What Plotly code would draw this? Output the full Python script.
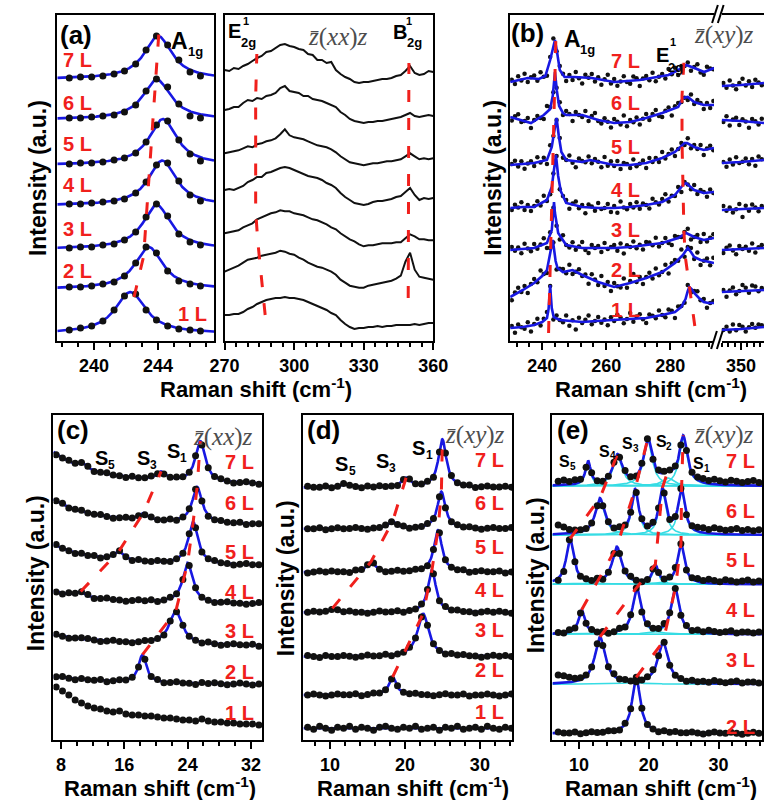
import numpy as np
import plotly.graph_objects as go

W, H = 779, 800
SANS = "Liberation Sans, Arial, sans-serif"
SERIF = "Liberation Serif, Times New Roman, serif"
BLUE = "#1818e2"
RED = "#f0201c"
CYAN = "#36dce4"
INK = "#111111"
GREY = "#4d4d4d"

LAYERS = ["1 L", "2 L", "3 L", "4 L", "5 L", "6 L", "7 L"]

# ---------------------------------------------------------------- (a) left
# A1g band, z(xx)z: Lorentzian fit parameters per layer (1L ... 7L)
a1_center = [242.27, 243.42, 243.92, 244.26, 244.30, 243.92, 244.00]
a1_amp = [41.5, 42.0, 44.0, 45.0, 46.0, 40.0, 43.0]
a1_hwhm = [1.15, 1.05, 1.05, 1.05, 1.05, 1.05, 1.05]
a1_base = [7.5, 52.0, 92.0, 135.5, 176.0, 221.5, 262.0]
a1_pts_x = [238.45, 239.15, 239.85, 240.55, 241.25, 241.9, 242.6,
            243.25, 243.9, 244.6, 245.3, 246.0, 246.65]
a1_pts_y = [
    [11, 13, 15, 20, 31, 45, 47, 31, 21, 15, 12, 11, 10],
    [54, 54, 55, 57, 59, 65, 78, 94, 88, 70, 60, 57, 55],
    [93, 94, 94, 96, 97, 101, 109, 124, 137, 125, 107, 99, 96],
    [137, 137, 138, 139, 140, 142, 148, 159, 176, 178, 160, 146, 140],
    [177, 178, 178, 179, 181, 183, 188, 199, 216, 220, 201, 187, 180],
    [223, 223, 224, 225, 226, 229, 236, 250, 262, 254, 237, 225, 223],
    [263, 264, 264, 265, 267, 270, 277, 291, 305, 296, 281, 269, 265],
]
a1_guide_x = [242.5, 243.1, 244.05]
a1_guide_y = [44, 85, 308]

# ---------------------------------------------------------------- (a) right
# E12g / B12g region, z(xx)z spectra, relative intensity every 2 cm-1
a2_shift = np.arange(270, 361, 2)
a2_offset = [26.0, 69.3, 107.7, 151.0, 187.7, 231.0, 271.0]
a2_rel = [
    [0, 0, 1, 1, 3, 6, 8, 11, 13, 15, 16, 17, 17, 18, 17, 17, 16, 15, 13, 11,
     9, 7, 5, 2, 0, -5, -9, -12, -14, -13, -13, -12, -12, -11, -12, -11, -11, -10, -10, -10,
     -10, -9, -10, -9, -8, -8],
    [0, 2, 4, 6, 9, 12, 13, 14, 16, 17, 18, 19, 21, 20, 18, 17, 14, 12, 9, 7,
     5, 4, 2, 0, -3, -8, -11, -14, -15, -16, -16, -14, -13, -12, -11, -10, -9, -7, -4, 10,
     19, 2, -5, -6, -7, -8],
    [0, 1, 2, 3, 6, 8, 10, 14, 16, 18, 20, 21, 23, 22, 22, 20, 19, 18, 16, 14,
     13, 11, 9, 6, 4, 0, -3, -6, -8, -11, -13, -12, -12, -11, -10, -10, -10, -9, -9, -5,
     -1, -3, -6, -6, -7, -7],
    [0, 1, 0, 2, 4, 8, 10, 13, 13, 17, 18, 20, 22, 23, 22, 20, 18, 16, 14, 13,
     12, 10, 7, 5, 2, -3, -7, -10, -13, -14, -15, -14, -12, -11, -11, -10, -9, -7, -6, -2,
     2, -5, -10, -8, -9, -8],
    [0, 1, 2, 3, 5, 7, 6, 9, 10, 12, 13, 15, 19, 24, 18, 16, 15, 14, 12, 10,
     8, 7, 6, 4, 1, -3, -6, -9, -10, -11, -12, -11, -10, -10, -9, -8, -8, -7, -6, -3,
     0, -3, -6, -5, -6, -5],
    [0, 1, 3, 3, 7, 10, 9, 12, 11, 14, 15, 17, 22, 24, 19, 18, 17, 14, 14, 11,
     10, 9, 7, 5, 3, -2, -5, -9, -11, -12, -13, -12, -12, -11, -11, -10, -9, -8, -7, -5,
     -3, -6, -7, -6, -5, -6],
    [0, -1, 2, 1, 4, 6, 9, 12, 14, 18, 19, 22, 25, 26, 24, 23, 21, 20, 16, 15,
     10, 10, 7, 8, 0, -4, -7, -9, -12, -13, -12, -12, -11, -10, -9, -9, -8, -6, -5, -1,
     4, -3, -5, -4, -1, -2],
]
a2_E_guide_x = [287.5, 285.9, 284.3, 283.4, 283.4, 283.9]
a2_E_guide_y = [26, 60, 100, 130, 244, 287]
a2_B_guide_x = [349.2, 349.5]
a2_B_guide_y = [43, 278]

# ---------------------------------------------------------------- (b)
# z(xy)z, fitted curves (relative to each layer offset) and measured points
b_offset = [13, 44, 91, 133, 176, 224, 259]
b_fit_x = [
    [230, 234, 237.5, 240, 241.5, 242.0, 242.3, 242.5, 242.7, 243.0, 243.6, 245.5, 249, 252.5, 257,
     262.5, 267, 272.5, 277.5, 281.5, 283.5, 284.8, 285.5, 286.0, 286.7, 287.5, 289, 290.5, 292, 293.7],
    [230, 234, 237.5, 240, 241.5, 242.5, 243.0, 243.3, 243.7, 244.2, 244.8, 246.5, 249.5, 252.5, 257.5,
     262.5, 267.5, 272.5, 277.5, 281.5, 284, 285.5, 286.5, 287.5, 289.5, 293.7],
    [230, 234, 237.5, 241.5, 243.0, 243.4, 243.7, 244.0, 244.4, 245.0, 247.5, 252.5, 257.5, 262.5, 267.5,
     272.5, 277.5, 282.5, 285.0, 287.5, 290.5, 293.7],
    [230, 234, 237.5, 241.5, 243.0, 243.7, 244.3, 245.0, 245.8, 247.5, 252.5, 257.5, 262.5, 267.5, 272.5,
     277.5, 281.5, 284.0, 285.0, 287.5, 290.5, 293.7],
    [230, 234, 237.5, 241.5, 243.0, 243.8, 244.5, 245.2, 246.0, 247.5, 252.5, 255.0, 258.0, 262.5, 267.5,
     272.5, 277.5, 281.5, 284.5, 285.3, 287.5, 290.5, 293.7],
    [230, 233.5, 236.5, 240.5, 242.5, 243.3, 244.0, 244.6, 245.3, 246.5, 247.5, 252.5, 257.5, 262.5, 267.5,
     272.5, 277.5, 282.5, 284.0, 285.5, 287.5, 290.5, 293.7],
    [230, 235.5, 239, 241, 242.5, 243.3, 244.0, 244.7, 245.5, 247, 250, 255.5, 262.5, 270.5, 279.5,
     282.5, 285.0, 287.6, 290.6, 293.7],
]
b_fit_rel = [
    [0, 1, 3, 6, 10, 19, 33, 43, 33, 20, 11, 8, 7, 6, 7, 8, 9, 10, 13, 16, 21, 29, 37, 41, 39, 35, 30, 26, 25, 25],
    [0, 7, 14, 21, 27, 44, 53, 57, 48, 36, 29, 25, 27, 22, 15, 10, 14, 19, 25, 34, 42, 49, 45, 40, 37, 34],
    [0, 1, 2, 7, 20, 35, 48, 37, 27, 17, 5, 2, 2, 2, 3, 5, 7, 12, 17, 13, 10, 12],
    [0, 1, 1, 8, 21, 37, 53, 32, 17, 5, 1, 0, 0, 1, 3, 6, 13, 23, 25, 18, 15, 16],
    [0, 1, 2, 5, 18, 34, 47, 29, 13, 5, 3, 5, 3, 0, 0, 2, 7, 13, 22, 22, 18, 15, 17],
    [0, -3, -6, 2, 8, 21, 45, 26, 11, 4, 2, 2, -3, -6, -5, -1, 4, 10, 19, 20, 15, 12, 12],
    [0, 4, 3, 6, 22, 33, 42, 29, 12, 5, 5, 4, 0, 2, 7, 12, 17, 14, 10, 14],
]
b_pts_x = np.arange(230.5, 294.0, 1.0)
b_pts_res = [
    [2, -5, 3, 0, -2, 4, -6, 1, 5, -3, 2, 6, -1, -4, 3, 0,
     -2, 5, -5, 1, -8, 4, -1, 2, 6, -3, 0, 4, -2, 1, -5, 3,
     -1, 5, 2, -4, 0, 6, -3, 2, 4, -1, -5, 3, 1, -2, 5, 0,
     -3, 4, 2, -6, 3, 1, -2, 6, -4, 2, 5, -1, 3, -5, 0, 2],
    [-4, 2, 5, -1, 3, -6, 1, 4, -2, 7, 0, -3, 5, 2, -5, 1,
     3, -2, 6, -4, 0, 4, -1, 2, -6, 5, 1, -3, 7, -2, 3, -5,
     4, 0, -2, 6, -4, 2, 8, -1, 3, -5, 1, 4, -3, 6, -2, 0,
     5, -6, 2, 3, -1, 7, -4, 1, 4, -2, 6, -5, 0, 3, -3, 5],
    [3, -1, 2, -4, 5, 0, -3, 4, -2, 1, 6, -5, 2, 3, -1, -4,
     5, 0, -2, 4, -3, 1, 6, -2, -5, 3, 0, 2, -4, 5, -1, 1,
     3, -3, 4, -6, 2, 0, 5, -2, 1, -4, 3, 2, -1, 6, -3, 0,
     4, -2, -5, 3, 1, -1, 2, 5, -4, 0, 3, -3, 6, -2, 1, 4],
    [-2, 3, 0, 5, -3, 2, -4, 1, 4, -2, 6, -1, -3, 2, 5, -4,
     0, 3, -5, 1, 4, -2, 2, -6, 3, 1, -3, 5, -1, 0, 4, -4,
     2, -5, 6, 0, -2, 3, -1, 4, -3, 2, 0, -4, 5, 1, -2, 3,
     6, -3, 1, -1, 4, -5, 2, 0, -2, 5, -3, 2, 1, -4, 3, -1],
    [1, 4, -2, 3, -5, 0, 2, -3, 5, -1, 3, -4, 6, 1, -2, 4,
     -3, 0, 5, -2, -6, 3, 1, -1, 4, -3, 2, 0, -5, 6, -2, 3,
     -1, 4, -4, 2, 1, -3, 5, -2, 0, 3, -5, 4, -1, 2, -3, 6,
     -2, 1, 4, -4, 0, 3, -2, 5, -3, 2, -1, 4, -5, 1, 3, -2],
    [-3, 2, 5, -2, 0, 4, -5, 1, 3, -1, -4, 6, 2, -3, 0, 5,
     -2, 4, 1, -6, 3, 0, -2, 5, -4, 2, 6, -1, -3, 3, 0, -5,
     4, 1, -2, 7, -4, 2, -1, 3, -5, 0, 4, -3, 2, 5, -2, -4,
     1, 3, -6, 2, 4, -1, 0, -3, 5, -2, 3, 1, -4, 2, -3, 4],
    [2, -3, 4, -1, 5, -4, 1, 3, -2, 6, 0, -5, 3, 8, -2, 4,
     1, -4, 2, -3, 5, -1, -6, 3, 0, 4, -3, 2, -5, 1, 6, -2,
     3, -4, 0, 5, -1, -3, 4, 2, -6, 1, 3, -2, 5, -4, 0, 2,
     -3, 6, -1, 4, -5, 2, 0, 3, -4, 1, 5, -2, -3, 4, 1, -1],
]
b2_fit_x = [344.0, 350.0, 357.2]
b2_fit_rel = [[-2, -1, 1], [5, 6, 7], [0, 1, 2], [-2, -1, 0], [2, 3, 5], [-3, -4, -6], [-4, -3, -1]]
b2_pts_x = np.arange(344.5, 357.0, 1.0)
b2_pts_res = [
    [0, 3, -2, 5, -1, 4, 2, -3, 1, 4, 0, 3, 2],
    [2, -5, 1, 4, -3, 0, 6, 3, -2, 5, 4, -1, 2],
    [-3, 2, 4, -1, -5, 3, 0, 2, -2, 5, -4, 1, 3],
    [4, -1, 2, -3, 0, 5, -8, 3, -2, 4, 1, -3, 2],
    [1, -4, 3, -2, 5, -1, 0, 3, -3, 2, -5, 4, 1],
    [-2, 4, -5, 1, 3, -4, 2, 0, -6, 3, 1, -2, 4],
    [3, -2, 5, 0, -4, 2, 6, -1, 3, -3, 4, 1, -2],
]
b_A_guide_x = [242.0, 244.3]
b_A_guide_y = [8, 305]
b_E_guide_x = [287.7, 286.0, 284.7, 284.3, 284.0, 283.7, 283.7, 284.4]
b_E_guide_y = [15, 55, 85, 110, 150, 200, 245, 285]

# ---------------------------------------------------------------- (c)
# shear / breathing modes, z(xx)z: baseline, Rayleigh wing and Lorentzian peaks
c_base = [15, 55, 93.3, 135, 173.3, 214, 254]
c_ray_amp = [None, 15, 21, 27, 67, 80, 102]
c_ray_w = [None, 8, 8, 7, 5, 5, 5]
c_s1_pos = [None, 18.3, 22.5, 24.0, 24.7, 25.2, 25.6]
c_s1_amp = [None, 28, 33, 40, 42, 36, 41]
c_s1_w = [None, 0.6, 1.0, 0.75, 0.75, 0.75, 0.75]
c_s3_pos = [None, None, None, 10.5, 15.3, 18.4, 20.65]
c_s3_amp = [None, None, None, 5, 8.5, 7, 8]
c_s3_w = [None, None, None, 0.7, 0.8, 0.7, 0.7]
c_s5_pos = [None, None, None, None, None, None, 10.7]
c_s5_amp = [None, None, None, None, None, None, 5]
c_s5_w = [None, None, None, None, None, None, 0.6]
c_pts_x = np.round(7.4 + 0.8 * np.arange(33), 2)
c_1L_pts = [38, 34, 30, 25, 22, 19, 17, 16, 14, 13, 14, 11, 10, 10, 9, 9, 8, 7, 7, 6,
            5, 5, 4, 6, 4, 3, 3, 2, 2, 1, 1, 1, 0]
c_pts_res = [
    None,
    [0, 1, 0, -1, 1, 0, 0, 1, -1, 0, 1, 0, 0, -1, 1, 0, 1, -1, 0, 1, 0, 0, -1, 1, 0, 1, 0, -1, 0, 1, 0, -1, 0],
    [1, 0, -1, 0, 1, 1, 0, -1, 0, 1, 0, 0, -1, 0, 1, 0, 0, -1, 1, 0, 1, 0, 0, -1, 1, 0, -1, 0, 1, 0, 0, 1, -1],
    [0, -1, 1, 0, 0, 1, -1, 0, 1, 0, 0, -1, 0, 1, 0, 1, -1, 0, 1, 0, -1, 0, 1, 0, 0, -1, 0, 1, 0, 0, -1, 0, 1],
    [1, 0, 0, -1, 1, 0, 1, -1, 0, 0, 1, 0, -1, 1, 0, 0, 1, 0, -1, 0, 0, 1, 0, -1, 0, 1, 0, 0, -1, 0, 1, 0, 0],
    [0, 1, -1, 0, 1, 0, 0, 1, 0, -1, 0, 1, 0, 0, -1, 1, 0, 0, 1, -1, 0, 1, 0, 0, -1, 0, 1, 0, 0, 1, -1, 0, 0],
    [-1, 0, 1, 0, 0, 1, -1, 0, 1, 0, 0, -1, 1, 0, 0, 1, 0, -1, 0, 1, 0, 0, 1, -1, 0, 0, 1, 0, -1, 0, 1, 0, -1],
]

# ---------------------------------------------------------------- (d)
# shear / breathing modes, z(xy)z
d_base = [11.7, 45, 83.3, 127.5, 167.8, 211.2, 252.5]
d_s1_pos = [None, 18.35, 22.42, 23.6, 24.4, 24.86, 24.99]
d_s1_amp = [None, 18, 43, 42.5, 42, 37, 48]
d_s1_w = [None, 0.6, 0.9, 0.65, 0.65, 0.65, 0.65]
d_s3_pos = [None, None, None, 10.3, 15.44, 18.35, 20.15]
d_s3_amp = [None, None, None, 4, 10, 7, 9]
d_s3_w = [None, None, None, 0.6, 0.7, 0.7, 0.7]
d_s5_pos = [None, None, None, None, None, None, 12.0]
d_s5_amp = [None, None, None, None, None, None, 3]
d_s5_w = [None, None, None, None, None, None, 0.8]
d_pts_x = np.round(7.0 + 0.8 * np.arange(35), 2)
d_pts_res = [
    [1, -1, 2, 0, -2, 1, 0, 2, -1, 1, 0, -2, 1, 2, 0, -1, 1, 0, 2, -1, 0, 1, -2, 1, 0, 2, -1, 0, 1, -1, 2, 0, -1, 1, 0],
    [0, 1, 0, -1, 0, 1, 0, 0, 1, -1, 0, 1, 0, 0, -1, 1, 0, 0, 1, 0, 0, -1, 0, 1, 0, 0, 1, -1, 0, 0, 1, 0, -1, 0, 1],
    [1, 0, -1, 1, 0, 0, 1, 0, -1, 0, 1, 0, 0, 1, -1, 0, 0, 1, 0, -1, 1, 0, 0, -1, 1, 0, 1, 0, 0, -1, 0, 1, 0, 1, 0],
    [0, 1, 0, 0, -1, 1, 0, 1, 0, 0, -1, 0, 1, 0, 0, 1, -1, 0, 0, 1, 0, 0, -1, 1, 0, 1, 0, 0, -1, 0, 1, 0, 1, 0, -1],
    [-1, 0, 1, 0, 1, 0, 0, -1, 1, 0, 0, 1, 0, -1, 0, 1, 0, 0, 1, 0, -1, 0, 1, 0, 0, 0, 1, -1, 0, 1, 0, 0, 1, -1, 0],
    [0, 0, 1, -1, 0, 1, 0, 0, 1, 0, -1, 0, 0, 1, 0, 0, 1, -1, 0, 0, 1, 0, 0, -1, 0, 1, 0, 1, 0, -1, 0, 1, 0, 0, 1],
    [1, 0, 0, 1, -1, 0, 1, 0, 0, -1, 1, 0, 1, 0, 0, -1, 0, 1, 0, 0, 1, -1, 0, 0, 1, 0, 0, 1, -1, 0, 1, 0, 0, 1, 0],
]

# ---------------------------------------------------------------- (e)
# z(xy)z, multi-Lorentzian decomposition, layers 2L ... 7L
E_LAYERS = LAYERS[1:]
e_base = [6.7, 55.7, 105.7, 155.7, 205, 254]
e_pos = [[18.19], [13.0, 22.04], [10.37, 18.28, 23.8], [8.7, 15.42, 20.94, 24.62],
         [12.98, 18.04, 21.95, 24.7], [11.28, 15.52, 19.88, 22.78, 24.94]]
e_amp = [[56], [47, 42], [24, 46, 45], [45, 37, 18, 40],
         [36, 44, 44, 44], [24, 30, 45, 8, 48]]
e_w = [[0.7], [0.9, 0.9], [0.55, 0.7, 0.7], [0.65, 0.8, 0.5, 0.6],
       [0.8, 0.6, 0.6, 0.6], [0.45, 0.8, 0.75, 1.0, 0.7]]
# peaks followed across layers by the guide lines: (layer index, peak index)
e_series = [
    [(0, 0), (1, 1), (2, 2), (3, 3), (4, 3), (5, 4)],
    [(1, 0), (2, 1), (3, 2), (4, 2), (5, 3)],
    [(2, 0), (3, 1), (4, 1), (5, 2)],
    [(3, 0), (4, 0), (5, 1)],
]
e_pts_x = np.round(7.0 + 0.8 * np.arange(37), 2)
e_pts_res = [
    [1, 0, 0, 1, -1, 0, 1, 0, 0, 1, 0, -1, 1, 0, 0, 1, 0, 0, -1, 1, 0, 1, 0, 0, 1, 0, -1, 0, 1, 0, 0, 1, 0, -1, 0, 1, 0],
    [8, 7, 5, 3, 2, 1, 0, 1, -1, 0, 2, 0, 1, 0, -1, 0, 1, 2, 0, 1, -1, 0, 1, 0, 2, 1, 2, 1, 3, 2, 1, 2, 3, 1, 2, 2, 1],
    [1, 0, 2, 0, -1, 0, 1, 0, 1, -1, 0, 2, 0, 1, 0, -1, 1, 0, 0, 2, 1, 0, -1, 1, 0, 2, 1, 3, 2, 1, 2, 3, 1, 2, 2, 1, 2],
    [-2, -3, 0, 1, 0, 1, 0, 2, -1, 0, 1, 0, 1, 2, 0, -1, 0, 1, 0, 0, 1, 2, 0, -1, 1, 3, 2, 4, 3, 2, 4, 3, 2, 3, 4, 2, 3],
    [9, 7, 4, 3, 2, 1, 0, -1, 0, 1, 0, 2, 1, 0, -1, 1, 0, 2, 0, 1, -1, 0, 1, 0, 2, 4, 5, 4, 6, 5, 4, 5, 6, 4, 5, 4, 5],
    [4, 5, 3, 4, 2, 0, 1, 0, -1, 0, 1, 0, 2, 0, -1, 1, 0, 0, 2, 1, 0, 1, -1, 0, 1, 3, 4, 3, 5, 4, 3, 5, 4, 3, 4, 5, 3],
]


def lorentz(x, c, a, g):
    return a / (1.0 + ((np.asarray(x, float) - c) / g) ** 2)


fig = go.Figure()

AX_A1, AX_A2, AX_B1, AX_B2 = ("x", "y"), ("x2", "y2"), ("x3", "y3"), ("x4", "y4")
AX_C, AX_D, AX_E = ("x5", "y5"), ("x6", "y6"), ("x7", "y7")
GUIDE = dict(color=RED, width=3, dash="12px,16px")


def add_line(ax, x, y, color, width, dash=None):
    fig.add_trace(go.Scatter(x=list(x), y=list(y), mode="lines",
                             line=dict(color=color, width=width, dash=dash),
                             xaxis=ax[0], yaxis=ax[1], hoverinfo="skip"))


def add_dots(ax, x, y, size):
    fig.add_trace(go.Scatter(x=list(x), y=list(y), mode="markers",
                             marker=dict(color=INK, size=size, line=dict(width=0)),
                             xaxis=ax[0], yaxis=ax[1], hoverinfo="skip"))


def add_guide(ax, x, y):
    fig.add_trace(go.Scatter(x=list(x), y=list(y), mode="lines", line=GUIDE,
                             xaxis=ax[0], yaxis=ax[1], hoverinfo="skip"))


# ---- (a) left
grid = np.linspace(237.7, 247.5, 400)
for i in range(7):
    add_line(AX_A1, grid, a1_base[i] + lorentz(grid, a1_center[i], a1_amp[i], a1_hwhm[i]), BLUE, 2.6)
for i in range(7):
    add_dots(AX_A1, a1_pts_x, a1_pts_y[i], 7)
add_guide(AX_A1, a1_guide_x, a1_guide_y)

# ---- (a) right
for i in range(7):
    add_line(AX_A2, a2_shift, np.array(a2_rel[i]) + a2_offset[i], INK, 2)
add_guide(AX_A2, a2_E_guide_x, a2_E_guide_y)
add_guide(AX_A2, a2_B_guide_x, a2_B_guide_y)

# ---- (b)
for i in range(7):
    fx, fy = np.array(b_fit_x[i]), np.array(b_fit_rel[i]) + b_offset[i]
    pts = np.interp(b_pts_x, fx, fy) + np.array(b_pts_res[i])
    add_dots(AX_B1, b_pts_x, pts, 4.5)
    add_line(AX_B1, fx, fy, BLUE, 2.6)
    fx2, fy2 = np.array(b2_fit_x), np.array(b2_fit_rel[i]) + b_offset[i]
    pts2 = np.interp(b2_pts_x, fx2, fy2) + np.array(b2_pts_res[i])
    add_dots(AX_B2, b2_pts_x, pts2, 4.5)
    add_line(AX_B2, fx2, fy2, BLUE, 2.6)
add_guide(AX_B1, b_A_guide_x, b_A_guide_y)
add_guide(AX_B1, b_E_guide_x, b_E_guide_y)


# ---- (c) and (d): single-spectrum fits
def mode_fit(x, i, base, ray_amp, ray_w, modes):
    y = np.full(np.shape(x), float(base[i]))
    if ray_amp is not None and ray_amp[i] is not None:
        y = y + lorentz(x, 0.0, ray_amp[i], ray_w[i])
    for pos, amp, w in modes:
        if pos[i] is not None:
            y = y + lorentz(x, pos[i], amp[i], w[i])
    return y


c_modes = [(c_s1_pos, c_s1_amp, c_s1_w), (c_s3_pos, c_s3_amp, c_s3_w), (c_s5_pos, c_s5_amp, c_s5_w)]
grid = np.linspace(7.06, 33.4, 600)
add_dots(AX_C, c_pts_x, np.array(c_1L_pts) + c_base[0], 7)
for i in range(1, 7):
    add_line(AX_C, grid, mode_fit(grid, i, c_base, c_ray_amp, c_ray_w, c_modes), BLUE, 2.6)
    add_dots(AX_C, c_pts_x, mode_fit(c_pts_x, i, c_base, c_ray_amp, c_ray_w, c_modes) + np.array(c_pts_res[i]), 7)
for pos, amp, w in c_modes[:2]:
    idx = [i for i in range(7) if pos[i] is not None]
    add_guide(AX_C, [pos[i] for i in idx],
              [float(mode_fit(np.array([pos[i]]), i, c_base, c_ray_amp, c_ray_w, c_modes)[0]) for i in idx])

d_modes = [(d_s1_pos, d_s1_amp, d_s1_w), (d_s3_pos, d_s3_amp, d_s3_w), (d_s5_pos, d_s5_amp, d_s5_w)]
grid = np.linspace(6.44, 34.3, 600)
for i in range(7):
    add_line(AX_D, grid, mode_fit(grid, i, d_base, None, None, d_modes), BLUE, 2.6)
    add_dots(AX_D, d_pts_x, mode_fit(d_pts_x, i, d_base, None, None, d_modes) + np.array(d_pts_res[i]), 7)
for pos, amp, w in d_modes[:2]:
    idx = [i for i in range(7) if pos[i] is not None]
    add_guide(AX_D, [pos[i] for i in idx],
              [float(mode_fit(np.array([pos[i]]), i, d_base, None, None, d_modes)[0]) for i in idx])


# ---- (e): components in cyan, sum in blue
def e_sum(x, k):
    y = np.full(np.shape(x), float(e_base[k]))
    for c, a, g in zip(e_pos[k], e_amp[k], e_w[k]):
        y = y + lorentz(x, c, a, g)
    return y


grid = np.linspace(6.18, 36.25, 700)
for k in range(6):
    for c, a, g in zip(e_pos[k], e_amp[k], e_w[k]):
        add_line(AX_E, grid, e_base[k] + lorentz(grid, c, a, g), CYAN, 1.6)
for k in range(6):
    add_line(AX_E, grid, e_sum(grid, k), BLUE, 2.6)
    add_dots(AX_E, e_pts_x, e_sum(e_pts_x, k) + np.array(e_pts_res[k]), 7)
for series in e_series:
    xs = [e_pos[k][j] for k, j in series]
    ys = [float(e_sum(np.array([e_pos[k][j]]), k)[0]) for k, j in series]
    add_guide(AX_E, xs, ys)

# ---------------------------------------------------------------- axes
TICKFONT = dict(family=SANS, size=18, color="black", weight="bold")


def xax(x0, x1, rng, dtick, tick0, mdt, anchor, mirror=True):
    return dict(domain=[x0 / W, x1 / W], range=rng, anchor=anchor, showline=True, linecolor="black",
                linewidth=2, mirror=mirror, ticks="outside", ticklen=7, tickwidth=2, tickcolor="black",
                dtick=dtick, tick0=tick0, tickfont=TICKFONT,
                showgrid=False, zeroline=False,
                minor=dict(ticks="outside", ticklen=4, tickwidth=2, tickcolor="black", dtick=mdt, tick0=tick0,
                           showgrid=False))


def yax(top, bottom, rng, anchor, showline=True, mirror=True):
    return dict(domain=[1 - bottom / H, 1 - top / H], range=rng, anchor=anchor, showline=showline,
                linecolor="black", linewidth=2, mirror=mirror, ticks="", showticklabels=False,
                showgrid=False, zeroline=False)


TOP, BOT = (15, 341), (415, 740)
fig.update_layout(
    xaxis=xax(44, 207, [237.7, 247.5], 4, 240, 1, "y"),
    yaxis=yax(*TOP, [0, 326], "x"),
    xaxis2=xax(218, 435, [270, 360], 30, 270, 5, "y2"),
    yaxis2=yax(*TOP, [0, 326], "x2"),
    xaxis3=xax(515, 727, [230, 293.7], 20, 240, 4, "y3"),
    yaxis3=yax(*TOP, [0, 326], "x3", showline=True, mirror=False),
    xaxis4=xax(735, 779, [344, 357.2], 10, 350, 2, "y4"),
    yaxis4=yax(*TOP, [0, 326], "x4", showline=False, mirror=False),
    xaxis5=xax(40, 257, [7.06, 33.4], 8, 8, 2, "y5"),
    yaxis5=yax(*BOT, [0, 325], "x5"),
    xaxis6=xax(300, 517, [6.44, 34.3], 10, 10, 2, "y6"),
    yaxis6=yax(*BOT, [0, 325], "x6"),
    xaxis7=xax(559, 777, [6.18, 36.25], 10, 10, 2, "y7"),
    yaxis7=yax(*BOT, [0, 325], "x7"),
)

# ---------------------------------------------------------------- text
ann = []


def label(x, y, text, size, color="black", family=SANS, bold=True, angle=0, xanchor="center"):
    ann.append(dict(x=x / W, y=1 - y / H, xref="paper", yref="paper", text=text, showarrow=False,
                    xanchor=xanchor, yanchor="middle", textangle=angle,
                    font=dict(family=family, size=size, color=color, weight="bold" if bold else "normal")))


XTITLE = "Raman shift (cm<sup>-1</sup>)"
YTITLE = "Intensity (a.u.)"
for x, y in [(251, 388), (661, 388), (151, 787), (414, 787), (672, 787)]:
    label(x, y, XTITLE, 22)
for x, y in [(24, 178), (497, 178), (22, 573), (282, 578), (542, 575)]:
    label(x, y, YTITLE, 23, angle=-90)

POL_XX = "<i>z\u0304</i>(<i>xx</i>)<i>z</i>"
POL_XY = "<i>z\u0304</i>(<i>xy</i>)<i>z</i>"

# panel (a)
label(63, 35, "(a)", 26)
label(171, 41, "A", 23)
label(188, 52, "1g", 13)
label(228, 31, "E", 20)
label(240, 21, "1", 11)
label(243, 43, "2g", 13)
label(400, 32, "B", 20)
label(410, 21, "1", 11)
label(415, 43, "2g", 13)
label(336, 37, POL_XX, 25, color=GREY, family=SERIF, bold=False)
for name, x, y in zip(LAYERS, [185, 65, 65, 65, 65, 65, 65], [314, 271, 229, 185, 144, 103, 60]):
    label(x, y, name, 20, color=RED)

# panel (b)
label(533, 33, "(b)", 26)
label(580, 39, "A", 23)
label(595, 49, "1g", 13)
label(673, 55, "E", 20)
label(684, 42, "1", 11)
label(687, 67, "2g", 13)
label(704, 35, POL_XY, 25, color=GREY, family=SERIF, bold=False, xanchor="left")
for name, y in zip(LAYERS, [310, 270, 230, 190, 147, 103, 61]):
    label(635, y, name, 20, color=RED)

# panel (c)
label(60, 430, "(c)", 26)
for s, sub, xs, xb, y in [("S", "5", 90, 100, 458), ("S", "3", 133.5, 144, 458), ("S", "1", 165, 175, 451)]:
    label(xs, y, s, 20)
    label(xb, y + 7, sub, 12)
label(216, 437, POL_XX, 25, color=GREY, family=SERIF, bold=False)
for name, y in zip(LAYERS, [713, 672, 631, 592, 552, 503, 462]):
    label(234, y, name, 20, color=RED)

# panel (d)
label(321, 430, "(d)", 26)
for s, sub, xs, xb, y in [("S", "5", 340, 351, 464), ("S", "3", 382, 393, 461), ("S", "1", 420, 431, 448)]:
    label(xs, y, s, 20)
    label(xb, y + 7, sub, 12)
label(478, 435, POL_XY, 25, color=GREY, family=SERIF, bold=False)
for name, y in zip(LAYERS, [712, 670, 630, 590, 547, 503, 460]):
    label(493, y, name, 20, color=RED)

# panel (e)
label(580, 430, "(e)", 26)
for sub, xs, xb, y in [("5", 572, 580, 461), ("4", 613.5, 622, 451), ("3", 637, 645.5, 443),
                       ("2", 672, 680, 441), ("1", 710.5, 719.5, 463)]:
    label(xs, y, "S", 16)
    label(xb, y + 5, sub, 10)
label(737, 435, POL_XY, 25, color=GREY, family=SERIF, bold=False)
for name, y in zip(E_LAYERS, [727, 660, 610, 560, 511, 461]):
    label(755, y, name, 20, color=RED)

# axis-break marks of panel (b)
shapes = []
for (x0, y0, x1, y1) in [(725, 23, 731, 5), (731, 23, 737, 5), (724, 349, 730, 331), (730, 349, 736, 331)]:
    shapes.append(dict(type="line", xref="paper", yref="paper", x0=x0 / W, y0=1 - y0 / H,
                       x1=x1 / W, y1=1 - y1 / H, line=dict(color="black", width=2)))

fig.update_layout(annotations=ann, shapes=shapes, width=W, height=H,
                  margin=dict(l=0, r=0, t=0, b=0), paper_bgcolor="white", plot_bgcolor="white",
                  showlegend=False, hovermode=False)

fig.write_html("out.html")
